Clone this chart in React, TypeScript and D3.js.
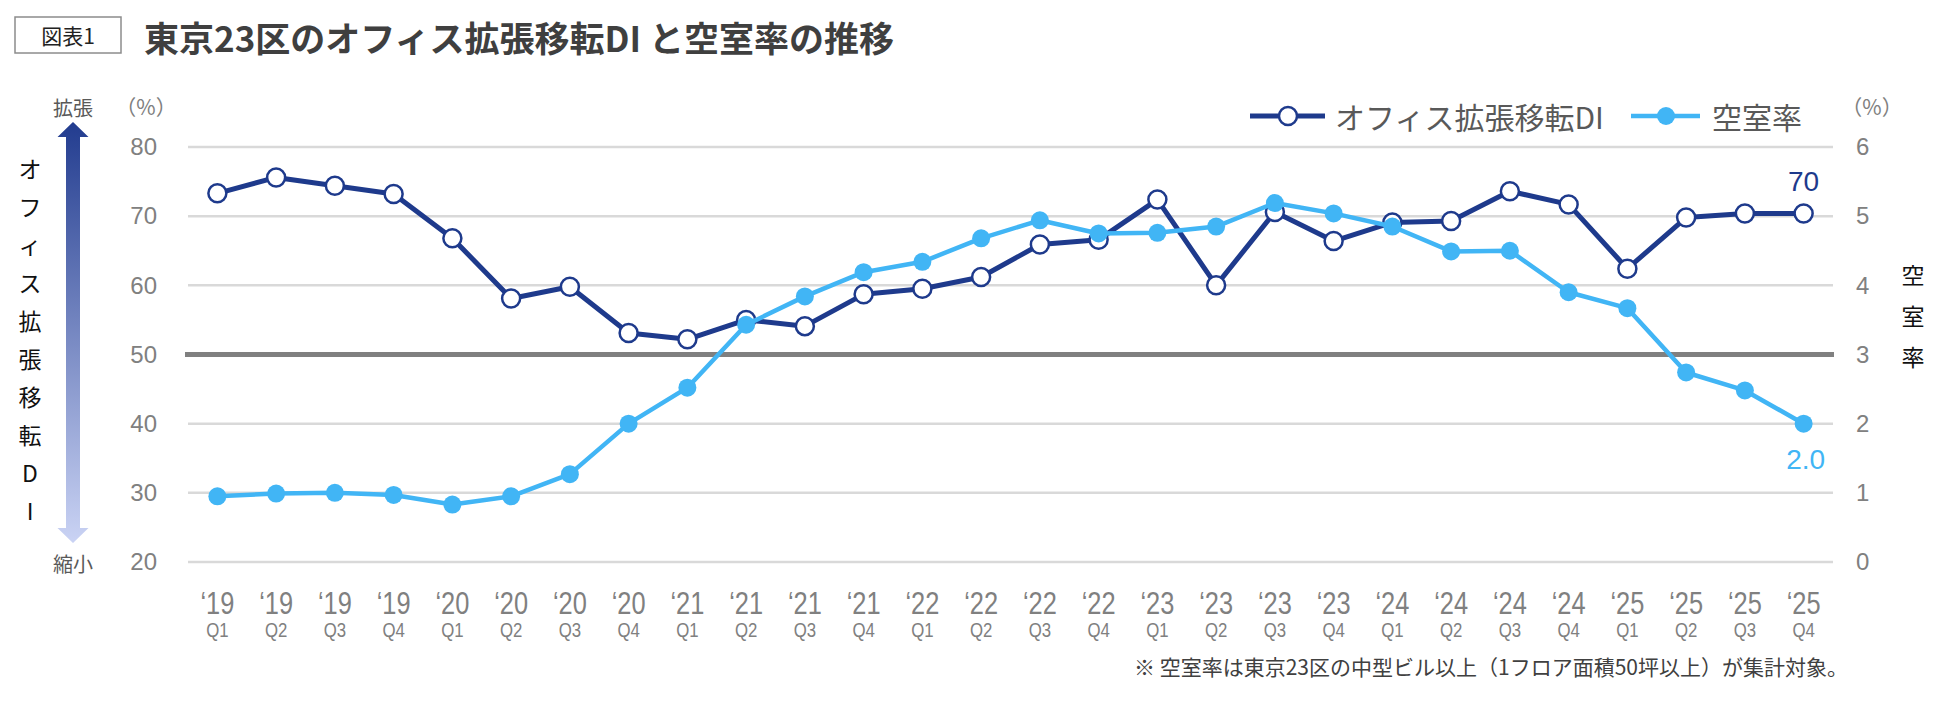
import React, { useRef, useEffect } from "react";
import * as d3 from "d3";

// quarter labels along the x axis
const yearLabels = [
  "‘19", "‘19", "‘19", "‘19", "‘20", "‘20", "‘20", "‘20",
  "‘21", "‘21", "‘21", "‘21", "‘22", "‘22", "‘22", "‘22",
  "‘23", "‘23", "‘23", "‘23", "‘24", "‘24", "‘24", "‘24",
  "‘25", "‘25", "‘25", "‘25",
];
const quarterLabels = [
  "Q1", "Q2", "Q3", "Q4", "Q1", "Q2", "Q3", "Q4",
  "Q1", "Q2", "Q3", "Q4", "Q1", "Q2", "Q3", "Q4",
  "Q1", "Q2", "Q3", "Q4", "Q1", "Q2", "Q3", "Q4",
  "Q1", "Q2", "Q3", "Q4",
];

// オフィス拡張移転DI (left axis, %)
const diValues = [
  73.3, 75.6, 74.4, 73.2, 66.8, 58.1, 59.8, 53.1,
  52.2, 55.0, 54.1, 58.7, 59.5, 61.2, 65.9, 66.6,
  72.4, 60.0, 70.6, 66.4, 69.1, 69.3, 73.6, 71.7,
  62.4, 69.8, 70.4, 70.4,
];

// 空室率 (right axis, %)
const vacancyValues = [
  0.95, 0.99, 1.0, 0.97, 0.83, 0.95, 1.27, 2.0,
  2.52, 3.43, 3.84, 4.19, 4.34, 4.68, 4.94, 4.75,
  4.76, 4.85, 5.19, 5.04, 4.85, 4.49, 4.5, 3.9,
  3.67, 2.74, 2.48, 2.0,
];

const leftTicks = [20, 30, 40, 50, 60, 70, 80];
const rightTicks = [0, 1, 2, 3, 4, 5, 6];
const leftAxisTitle = ["オ", "フ", "ィ", "ス", "拡", "張", "移", "転", "D", "I"];
const rightAxisTitle = ["空", "室", "率"];

const NAVY = "#1e3a8c";
const SKY = "#41b5f5";
const JP = "'Noto Sans CJK JP', sans-serif";
const NUM = "'Liberation Sans', Arial, sans-serif";

const App: React.FC = () => {
  const chartRef = useRef<SVGSVGElement | null>(null);

  useEffect(() => {
    if (!chartRef.current) return;
    const svg = d3.select(chartRef.current);
    svg.selectAll("*").remove();

    const width = 1950;
    const height = 727;
    const marginTop = 147;
    const marginBottom = 165;
    const marginLeft = 188;
    const marginRight = 117;

    const x = d3
      .scalePoint<number>()
      .domain(d3.range(diValues.length))
      .range([marginLeft, width - marginRight])
      .padding(0.5);

    const yL = d3
      .scaleLinear()
      .domain([20, 80])
      .range([height - marginBottom, marginTop]);

    const yR = d3
      .scaleLinear()
      .domain([0, 6])
      .range([height - marginBottom, marginTop]);

    // title
    svg
      .append("rect")
      .attr("x", 15)
      .attr("y", 17)
      .attr("width", 106)
      .attr("height", 36)
      .attr("fill", "none")
      .attr("stroke", "#8c8c8c")
      .attr("stroke-width", 1.5);
    svg
      .append("text")
      .attr("x", 68)
      .attr("y", 35)
      .attr("text-anchor", "middle")
      .attr("dominant-baseline", "central")
      .attr("font-family", JP)
      .attr("font-size", 21)
      .attr("fill", "#222")
      .text("図表1");
    svg
      .append("text")
      .attr("x", 144)
      .attr("y", 36)
      .attr("dominant-baseline", "central")
      .attr("font-family", JP)
      .attr("font-weight", 700)
      .attr("font-size", 35)
      .attr("fill", "#3f3f3f")
      .text("東京23区のオフィス拡張移転DI と空室率の推移");

    // gridlines
    svg
      .append("g")
      .selectAll("line")
      .data(leftTicks.filter((d) => d !== 50))
      .join("line")
      .attr("x1", marginLeft)
      .attr("x2", width - marginRight)
      .attr("y1", (d) => yL(d))
      .attr("y2", (d) => yL(d))
      .attr("stroke", "#d9d9d9")
      .attr("stroke-width", 2.5);

    // 50 line
    svg
      .append("line")
      .attr("x1", marginLeft - 3)
      .attr("x2", width - marginRight + 1)
      .attr("y1", yL(50))
      .attr("y2", yL(50))
      .attr("stroke", "#808080")
      .attr("stroke-width", 5);

    // left axis
    svg
      .append("g")
      .attr("transform", `translate(157,0)`)
      .call(d3.axisLeft(yL).tickValues(leftTicks).tickSize(0).tickPadding(0))
      .call((g) => g.select(".domain").remove())
      .call((g) =>
        g
          .selectAll("text")
          .attr("font-size", 24)
          .attr("font-family", NUM)
          .attr("fill", "#808080")
      );

    // right axis
    svg
      .append("g")
      .attr("transform", `translate(1856,0)`)
      .call(
        d3
          .axisRight(yR)
          .tickValues(rightTicks)
          .tickFormat(d3.format("d"))
          .tickSize(0)
          .tickPadding(0)
      )
      .call((g) => g.select(".domain").remove())
      .call((g) =>
        g
          .selectAll("text")
          .attr("font-size", 24)
          .attr("font-family", NUM)
          .attr("fill", "#808080")
      );

    // unit labels
    [146, 1872].forEach((ux) =>
      svg
        .append("text")
        .attr("x", ux)
        .attr("y", 106)
        .attr("text-anchor", "middle")
        .attr("dominant-baseline", "central")
        .attr("font-family", JP)
        .attr("font-size", 21)
        .attr("fill", "#808080")
        .text("（%）")
    );

    // x labels
    const xl = svg.append("g").attr("fill", "#808080").attr("font-family", NUM);
    xl.selectAll("text.year")
      .data(yearLabels)
      .join("text")
      .attr("class", "year")
      .attr("transform", (d, i) => `translate(${x(i)},603) scale(0.82,1)`)
      .attr("text-anchor", "middle")
      .attr("dominant-baseline", "central")
      .attr("font-size", 31)
      .text((d) => d);
    xl.selectAll("text.q")
      .data(quarterLabels)
      .join("text")
      .attr("class", "q")
      .attr("transform", (d, i) => `translate(${x(i)},630) scale(0.8,1)`)
      .attr("text-anchor", "middle")
      .attr("dominant-baseline", "central")
      .attr("font-size", 21)
      .text((d) => d);

    // left arrow with gradient
    const defs = svg.append("defs");
    const grad = defs
      .append("linearGradient")
      .attr("id", "arrowGrad")
      .attr("x1", 0)
      .attr("y1", 0)
      .attr("x2", 0)
      .attr("y2", 1);
    grad.append("stop").attr("offset", "0%").attr("stop-color", "#223c8f");
    grad.append("stop").attr("offset", "100%").attr("stop-color", "#cad3f4");
    const ax = 73;
    const arrow = d3.path();
    arrow.moveTo(ax, 122);
    arrow.lineTo(ax + 15.5, 137);
    arrow.lineTo(ax + 7, 137);
    arrow.lineTo(ax + 7, 528);
    arrow.lineTo(ax + 15.5, 528);
    arrow.lineTo(ax, 543);
    arrow.lineTo(ax - 15.5, 528);
    arrow.lineTo(ax - 7, 528);
    arrow.lineTo(ax - 7, 137);
    arrow.lineTo(ax - 15.5, 137);
    arrow.closePath();
    svg.append("path").attr("d", arrow.toString()).attr("fill", "url(#arrowGrad)");

    svg
      .append("text")
      .attr("x", ax)
      .attr("y", 107)
      .attr("text-anchor", "middle")
      .attr("dominant-baseline", "central")
      .attr("font-family", JP)
      .attr("font-size", 20)
      .attr("fill", "#595959")
      .text("拡張");
    svg
      .append("text")
      .attr("x", ax)
      .attr("y", 563)
      .attr("text-anchor", "middle")
      .attr("dominant-baseline", "central")
      .attr("font-family", JP)
      .attr("font-size", 20)
      .attr("fill", "#595959")
      .text("縮小");

    // vertical axis titles
    svg
      .append("g")
      .selectAll("text")
      .data(leftAxisTitle)
      .join("text")
      .attr("x", 30)
      .attr("y", (d, i) => 168 + i * 38)
      .attr("text-anchor", "middle")
      .attr("dominant-baseline", "central")
      .attr("font-family", JP)
      .attr("font-size", 23)
      .attr("fill", "#111")
      .text((d) => d);
    svg
      .append("g")
      .selectAll("text")
      .data(rightAxisTitle)
      .join("text")
      .attr("x", 1913)
      .attr("y", (d, i) => 274 + i * 41)
      .attr("text-anchor", "middle")
      .attr("dominant-baseline", "central")
      .attr("font-family", JP)
      .attr("font-size", 23)
      .attr("fill", "#111")
      .text((d) => d);

    // DI series
    const diLine = d3
      .line<number>()
      .x((d, i) => x(i) as number)
      .y((d) => yL(d));
    svg
      .append("path")
      .datum(diValues)
      .attr("d", diLine)
      .attr("fill", "none")
      .attr("stroke", NAVY)
      .attr("stroke-width", 5)
      .attr("stroke-linejoin", "round");
    svg
      .append("g")
      .selectAll("circle")
      .data(diValues)
      .join("circle")
      .attr("cx", (d, i) => x(i) as number)
      .attr("cy", (d) => yL(d))
      .attr("r", 9)
      .attr("fill", "#fff")
      .attr("stroke", NAVY)
      .attr("stroke-width", 2.5);

    // vacancy series
    const vacLine = d3
      .line<number>()
      .x((d, i) => x(i) as number)
      .y((d) => yR(d));
    svg
      .append("path")
      .datum(vacancyValues)
      .attr("d", vacLine)
      .attr("fill", "none")
      .attr("stroke", SKY)
      .attr("stroke-width", 4.5)
      .attr("stroke-linejoin", "round");
    svg
      .append("g")
      .selectAll("circle")
      .data(vacancyValues)
      .join("circle")
      .attr("cx", (d, i) => x(i) as number)
      .attr("cy", (d) => yR(d))
      .attr("r", 9)
      .attr("fill", SKY);

    // end labels
    const last = diValues.length - 1;
    svg
      .append("text")
      .attr("x", x(last) as number)
      .attr("y", yL(diValues[last]) - 32)
      .attr("text-anchor", "middle")
      .attr("dominant-baseline", "central")
      .attr("font-family", NUM)
      .attr("font-size", 28)
      .attr("fill", NAVY)
      .text(d3.format(".0f")(diValues[last]));
    svg
      .append("text")
      .attr("x", (x(last) as number) + 2)
      .attr("y", yR(vacancyValues[last]) + 36)
      .attr("text-anchor", "middle")
      .attr("dominant-baseline", "central")
      .attr("font-family", NUM)
      .attr("font-size", 28)
      .attr("fill", SKY)
      .text(d3.format(".1f")(vacancyValues[last]));

    // legend
    const legend = svg.append("g").attr("font-family", JP).attr("font-size", 30).attr("fill", "#595959");
    legend.append("line").attr("x1", 1250).attr("x2", 1325).attr("y1", 116).attr("y2", 116)
      .attr("stroke", NAVY).attr("stroke-width", 5);
    legend.append("circle").attr("cx", 1288).attr("cy", 116).attr("r", 9)
      .attr("fill", "#fff").attr("stroke", NAVY).attr("stroke-width", 2.5);
    legend.append("text").attr("x", 1335).attr("y", 116).attr("dominant-baseline", "central")
      .text("オフィス拡張移転DI");
    legend.append("line").attr("x1", 1631).attr("x2", 1700).attr("y1", 116).attr("y2", 116)
      .attr("stroke", SKY).attr("stroke-width", 4.5);
    legend.append("circle").attr("cx", 1666).attr("cy", 116).attr("r", 9).attr("fill", SKY);
    legend.append("text").attr("x", 1712).attr("y", 116).attr("dominant-baseline", "central")
      .text("空室率");

    // footnote
    svg
      .append("text")
      .attr("x", 1848)
      .attr("y", 666)
      .attr("text-anchor", "end")
      .attr("dominant-baseline", "central")
      .attr("font-family", JP)
      .attr("font-size", 21)
      .attr("fill", "#404040")
      .text("※ 空室率は東京23区の中型ビル以上（1フロア面積50坪以上）が集計対象。");
  }, []);

  return (
    <div style={{ position: "absolute", left: 0, top: 0 }}>
      <svg
        ref={chartRef}
        width={1950}
        height={727}
        style={{ display: "block", background: "#fff" }}
      />
    </div>
  );
};

export default App;
